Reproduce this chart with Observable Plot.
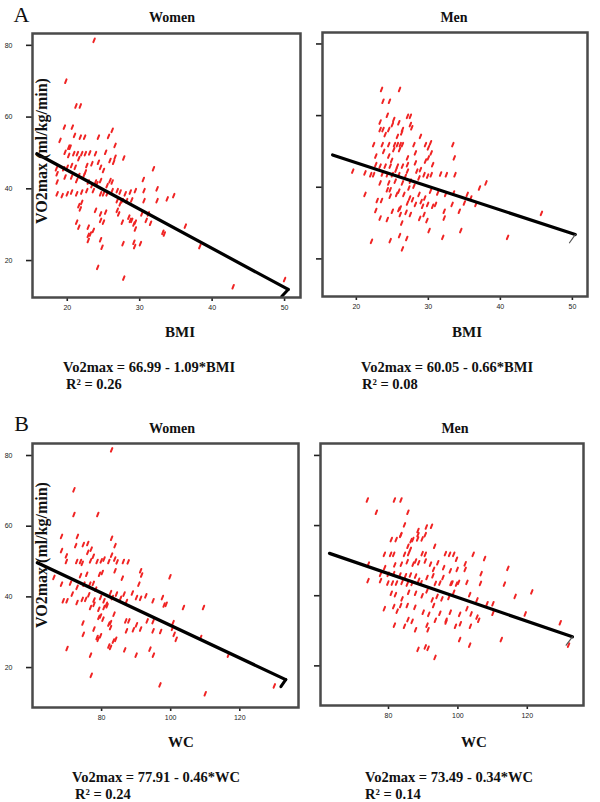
<!DOCTYPE html>
<html>
<head>
<meta charset="utf-8">
<script src="https://cdn.jsdelivr.net/npm/d3@7"></script>
<script src="https://cdn.jsdelivr.net/npm/@observablehq/plot@0.6"></script>
<style>
  body { margin: 0; background: #fff; }
  #chart { position: relative; width: 600px; height: 802px; overflow: hidden; font-family: "Liberation Serif", "Times New Roman", serif; color: #111; }
  .pl { position: absolute; }
  .t { position: absolute; white-space: nowrap; line-height: 1; transform: translate(-50%, -50%); }
  .l { position: absolute; white-space: nowrap; line-height: 1; transform: translate(0, -50%); font-weight: bold; font-size: 14.5px; }
  .letter { font-size: 22px; }
  .ttl { font-size: 14px; font-weight: bold; }
  .xl { font-size: 15px; font-weight: bold; }
  .yl { font-size: 16px; font-weight: bold; transform: translate(-50%, -50%) rotate(-90deg); }
</style>
</head>
<body>
<div id="chart"></div>
<script>
// ---------- data ----------
const vo2Ticks = [20, 40, 60, 80];
const bmiTicks = [20, 30, 40, 50];
const wcTicks = [80, 100, 120];

const panelLetters = ["A", "B"];
const sexTitles = ["Women", "Men"];
const xLabels = ["BMI", "WC"];
const yLabel = "VO2max (ml/kg/min)";
const equations = ["Vo2max = 66.99 - 1.09*BMI", "Vo2max = 60.05 - 0.66*BMI", "Vo2max = 77.91 - 0.46*WC", "Vo2max = 73.49 - 0.34*WC"];
const r2Labels = ["R\u00b2 = 0.26", "R\u00b2 = 0.08", "R\u00b2 = 0.24", "R\u00b2 = 0.14"];

// regression fits (women BMI, men BMI, women WC, men WC)
const intercepts = [66.99, 60.05, 77.91, 73.49];
const slopes = [-1.09, -0.66, -0.46, -0.34];
const lineStart = [15.8, 16.7, 61.4, 63.0];
const lineEnd = [50.5, 50.4, 133.3, 133.0];
const hookX = [49.6, 49.6, 131.9, 131.2];
const hookY = [10.0, 24.5, 14.6, 25.9];

// Women, BMI
const womenBmi = [23.7,19.8,21.2,21.8,19.6,20.7,19.0,21.0,21.8,22.4,24.3,25.7,26.2,26.6,
  20.2,20.4,19.7,20.2,20.9,21.4,22.0,22.5,23.1,23.9,
  18.5,18.6,19.5,20.6,21.1,22.7,23.4,24.6,25.0,25.9,26.4,26.6,27.8,
  31.9,30.5,
  18.6,19.7,20.6,21.3,22.3,22.9,23.9,24.6,25.9,
  18.6,19.3,20.0,20.6,21.3,22.0,22.7,23.6,24.6,25.0,25.5,26.2,26.9,27.3,28.0,28.7,29.4,30.6,32.4,33.8,34.7,
  26.9,27.6,28.2,28.9,30.6,32.4,
  21.6,21.8,23.9,24.6,25.3,26.9,27.1,28.5,28.9,29.4,30.3,31.2,
  21.3,21.6,22.9,23.6,24.6,25.0,27.6,28.7,29.2,29.4,30.9,31.5,33.2,33.4,36.3,
  22.9,23.2,22.9,24.6,24.8,27.7,29.2,29.3,30.1,38.3,
  24.2,27.8,42.9,50.0,
  21.6,22.5,23.4,24.1,25.5,26.2,20.0,21.6,24.3,25.3,27.3,22.0];
const womenBmiVo2 = [81.4,70.0,63.1,63.1,57.2,57.2,53.5,54.9,54.4,54.4,54.4,54.6,56.3,52.1,
  51.6,51.6,50.2,49.3,49.8,49.8,49.8,49.8,50.0,49.8,
  45.6,44.2,45.6,46.5,46.0,46.5,47.0,46.0,45.1,47.9,47.4,48.8,48.6,
  45.6,42.6,
  41.9,43.3,43.3,42.3,43.7,41.9,41.9,42.3,42.3,
  38.6,38.1,38.6,39.1,38.6,39.1,39.5,39.5,38.6,38.6,38.6,39.5,39.5,39.1,38.6,39.1,39.5,39.5,40.0,37.2,38.1,
  36.7,36.7,36.7,36.9,36.7,36.7,
  35.3,34.4,34.0,33.0,33.5,34.0,33.0,32.1,31.2,30.7,33.0,33.0,
  30.7,29.3,29.3,28.4,31.2,30.7,30.7,31.2,30.2,28.8,31.2,30.4,27.9,27.4,29.6,
  27.0,27.4,25.6,25.8,23.7,24.7,25.1,23.9,24.7,23.9,
  18.1,15.1,12.7,14.7,
  43.7,44.7,40.9,41.4,40.9,41.9,46.0,48.4,47.4,50.2,35.8,36.2];

// Men, BMI
const menBmi = [23.5,26.0,23.7,24.6,24.3,
  23.3,25.2,25.9,27.1,27.5,
  23.3,23.7,24.5,25.0,26.4,27.5,27.7,
  24.0,25.7,26.3,28.9,
  22.4,23.6,24.5,25.3,25.7,26.1,26.4,28.0,29.6,30.3,33.4,
  22.7,23.8,24.5,25.2,26.0,27.1,28.2,30.0,30.4,33.6,
  22.7,23.3,24.0,24.7,25.7,26.4,27.1,28.2,29.6,30.0,30.6,
  19.5,21.2,22.0,22.4,23.6,24.3,25.0,25.9,27.1,28.4,28.9,29.4,30.4,31.7,32.5,33.7,
  23.3,24.5,25.4,26.4,27.5,28.7,29.9,
  24.3,24.7,25.9,27.3,28.0,30.3,37.1,38.0,
  21.2,22.9,23.5,24.7,25.6,26.6,27.4,28.7,29.5,31.3,32.4,33.5,35.4,35.9,
  22.7,25.0,25.9,26.1,27.1,28.2,29.2,29.9,30.6,31.0,32.2,33.3,34.3,35.0,36.6,
  23.3,24.3,26.1,27.5,28.8,29.4,29.8,32.2,
  26.3,30.1,34.5,
  22.1,24.7,26.0,27.0,32.0,41.0,26.4,45.7,
  25.5,26.8,24.9,27.8,29.0,26.9];
const menBmiVo2 = [67.3,67.3,64.0,64.0,60.1,
  58.2,58.9,58.0,59.8,59.8,
  56.1,56.1,56.1,57.5,56.1,57.5,56.6,
  54.7,54.2,55.2,54.2,
  51.9,51.9,51.9,51.9,51.9,51.9,51.9,51.9,51.9,52.4,51.9,
  48.7,50.0,48.7,50.5,50.5,48.2,49.6,51.0,49.6,48.2,
  46.3,45.9,45.9,45.9,45.9,45.9,46.3,46.8,47.3,48.2,46.3,
  44.5,44.0,43.5,43.5,43.7,43.5,43.5,43.5,44.5,44.5,44.9,43.5,43.5,43.7,43.5,43.5,
  41.2,41.2,41.7,41.2,41.7,42.6,43.1,
  39.3,39.3,38.9,39.8,40.3,38.9,39.8,41.2,
  38.0,36.3,36.3,37.5,38.0,38.0,37.0,38.0,37.0,38.4,38.0,38.4,38.0,37.0,
  33.5,33.3,33.8,34.2,35.6,35.2,34.7,35.2,34.7,35.2,33.3,35.2,33.3,35.6,35.2,
  31.4,31.0,32.4,32.4,31.3,32.4,30.7,31.4,
  30.0,27.9,27.9,
  24.9,25.1,26.5,25.7,26.0,26.0,22.8,32.7,
  44.8,43.0,47.5,36.5,36.0,33.0];

// Women, WC
const womenWc = [82.9,72.0,72.0,78.9,68.4,73.0,82.9,83.9,
  72.5,74.7,76.0,77.0,68.4,69.8,69.8,
  72.8,73.9,74.4,76.0,76.8,77.6,78.7,79.9,80.7,
  82.1,82.9,83.8,84.5,86.3,87.7,
  73.9,75.7,79.4,80.2,83.9,86.0,91.3,91.6,90.8,99.8,
  66.2,68.4,71.0,72.9,74.9,76.6,77.6,78.3,
  68.9,70.0,71.5,72.9,74.4,75.4,76.3,77.8,79.7,80.7,81.4,82.6,83.1,84.3,85.5,86.5,87.2,88.9,90.1,91.3,92.8,94.9,97.6,98.1,98.7,103.7,109.5,
  76.8,77.8,79.2,80.7,81.6,
  74.6,79.7,79.2,80.4,82.6,83.6,87.0,87.9,90.1,91.3,93.2,94.9,
  74.7,77.8,79.7,82.1,82.6,78.7,79.0,83.4,84.1,
  87.2,89.2,94.9,97.1,100.7,100.5,101.0,101.6,108.7,
  70.0,76.8,82.1,82.6,86.7,94.0,95.0,90.0,116.7,77.0,96.9,130.0,110.0];
const womenWcVo2 = [81.6,70.3,63.3,63.3,57.1,57.1,56.6,54.5,
  54.5,54.8,55.1,53.5,53.1,51.6,50.0,
  50.0,50.0,49.5,52.6,50.2,51.5,50.0,50.2,50.7,
  50.0,51.8,50.7,49.9,50.0,49.9,
  46.0,46.4,46.4,46.9,47.4,45.3,47.4,46.2,43.6,45.7,
  45.5,43.6,43.9,42.7,43.6,43.6,43.8,42.2,
  38.9,38.9,40.8,38.4,39.3,39.3,40.6,39.1,39.8,38.9,37.9,41.2,39.8,40.8,39.6,40.8,38.7,41.1,39.8,39.6,40.3,38.9,39.8,37.7,37.9,37.0,37.0,
  37.0,37.9,36.5,37.0,37.5,
  32.6,34.6,34.2,33.7,32.7,35.1,33.2,33.2,32.1,30.9,33.2,33.0,
  29.4,30.9,29.0,32.3,31.3,28.5,28.0,27.5,28.0,
  30.4,30.7,30.4,30.2,32.7,31.1,29.4,28.0,28.5,
  25.4,23.5,26.1,25.7,25.0,25.2,23.5,23.5,23.5,17.8,15.1,14.8,12.6];

// Men, WC
const menWc = [73.9,81.7,83.6,76.5,85.6,84.6,
  88.5,88.5,90.9,92.4,90.6,
  80.8,82.2,83.6,83.5,87.0,88.4,89.7,
  93.3,85.6,86.3,86.5,
  78.8,80.6,81.5,84.6,85.8,87.8,89.7,90.6,92.1,94.2,96.4,97.6,98.8,99.6,104.4,107.7,102.1,
  74.2,81.8,83.7,85.4,87.1,88.7,90.6,93.0,95.9,97.8,99.8,102.1,106.7,114.4,
  77.7,78.9,79.9,81.5,83.3,84.9,86.3,87.8,88.7,91.1,92.8,95.7,98.3,100.2,102.6,106.5,113.4,121.3,
  74.1,77.7,79.8,81.1,82.3,83.9,85.4,86.8,89.4,93.5,94.8,98.0,99.6,
  80.8,82.0,83.9,85.8,87.8,89.7,91.1,92.6,94.0,95.4,97.4,98.8,103.4,105.5,108.4,110.1,116.5,
  78.8,81.5,82.5,83.5,85.4,87.6,90.0,91.6,93.0,94.8,96.6,97.8,100.5,102.6,103.8,105.5,110.1,119.4,
  81.7,84.6,85.6,86.8,87.8,91.1,91.4,93.5,96.6,99.3,100.7,103.6,106.0,
  129.5,100.5,103.4,112.5,88.5,90.6,91.4,93.4,131.9];
const menWcVo2 = [67.3,67.3,67.3,63.8,63.8,60.2,
  58.6,57.4,59.6,59.8,57.4,
  56.0,56.0,57.4,57.2,56.0,56.2,56.2,
  54.1,54.1,53.2,55.7,
  51.8,51.8,51.8,51.8,52.0,49.9,52.0,51.8,49.0,49.4,52.0,51.8,51.8,50.4,51.8,50.6,49.1,
  49.0,48.8,49.0,49.7,49.0,49.4,49.9,47.5,48.0,47.1,47.5,47.5,46.3,47.8,
  46.1,48.0,46.1,46.3,45.9,45.7,45.9,45.6,44.4,45.2,45.7,45.2,43.6,43.8,43.8,43.5,43.3,41.1,
  44.3,44.3,43.6,43.6,43.6,43.8,43.3,43.5,43.7,43.5,43.6,43.5,43.3,
  40.7,40.3,39.1,41.0,40.7,40.0,41.4,38.8,39.8,39.1,39.5,41.0,40.3,38.8,37.7,37.7,39.8,
  36.3,36.9,35.6,37.2,37.2,36.7,35.3,34.7,37.2,35.0,33.0,35.3,34.7,36.3,34.8,33.9,35.0,34.8,
  31.6,31.3,33.2,32.7,30.3,31.6,30.3,33.0,32.5,31.3,32.0,31.3,33.0,
  32.3,27.5,25.9,27.5,24.7,25.4,25.0,22.4,25.9];

// ---------- drawing ----------
const dash = {
  draw(context, size) {
    const r = Math.sqrt(size / Math.PI);
    context.moveTo(-0.4 * r, r);
    context.lineTo(0.4 * r, -r);
  }
};

function panel(cfg) {
  const i = cfg.idx;
  const pts = cfg.xs.map((x, k) => ({x, y: cfg.ys[k]}));
  const fit = [lineStart[i], lineEnd[i]].map(x => ({x, y: intercepts[i] + slopes[i] * x}));
  const hook = [fit[1], {x: hookX[i], y: hookY[i]}];
  return Plot.plot({
    width: cfg.width, height: cfg.height,
    marginLeft: cfg.ml, marginRight: cfg.mr, marginTop: cfg.mt, marginBottom: cfg.mb,
    x: {domain: cfg.xDomain},
    y: {domain: cfg.yDomain},
    style: {fontFamily: "'Liberation Sans', Arial, sans-serif", fontSize: "7px", color: "#222", background: "transparent", overflow: "visible"},
    marks: [
      Plot.axisX({ticks: cfg.xTicks, tickSize: 4, tickPadding: 4, strokeWidth: 1.6, label: null, tickFormat: d => String(d)}),
      Plot.axisY({ticks: vo2Ticks, tickSize: 6, tickPadding: 14, strokeWidth: 1.6, label: null, tickFormat: cfg.yLabels ? (d => String(d)) : (() => "")}),
      Plot.dot(pts, {x: "x", y: "y", symbol: dash, r: 1.8, stroke: "#f02424", strokeWidth: 2, strokeLinecap: "round", fill: "none"}),
      Plot.line(fit, {x: "x", y: "y", stroke: "#000", strokeWidth: 3.2}),
      Plot.line(hook, {x: "x", y: "y", stroke: cfg.hookColor, strokeWidth: cfg.hookWidth}),
      Plot.frame({stroke: "#4a4a4a", strokeWidth: 2.5})
    ]
  });
}

const chart = document.getElementById("chart");
function place(el, left, top) {
  const d = document.createElement("div");
  d.className = "pl";
  d.style.left = left + "px";
  d.style.top = top + "px";
  d.appendChild(el);
  chart.appendChild(d);
}

place(panel({idx: 0, xs: womenBmi, ys: womenBmiVo2, width: 305, height: 320, ml: 32, mr: 5, mt: 33, mb: 23,
  xDomain: [15.2, 52.2], yDomain: [9.7, 83.3], xTicks: bmiTicks, yLabels: true, hookColor: "#000", hookWidth: 3}), 0, 0);
place(panel({idx: 1, xs: menBmi, ys: menBmiVo2, width: 310, height: 320, ml: 32, mr: 13, mt: 32, mb: 24,
  xDomain: [15.3, 52.1], yDomain: [9.5, 83.2], xTicks: bmiTicks, yLabels: false, hookColor: "#555", hookWidth: 1.2}), 290, 0);
place(panel({idx: 2, xs: womenWc, ys: womenWcVo2, width: 305, height: 320, ml: 32, mr: 7, mt: 33, mb: 23,
  xDomain: [60, 137], yDomain: [8.7, 83.4], xTicks: wcTicks, yLabels: true, hookColor: "#000", hookWidth: 3}), 0, 410);
place(panel({idx: 3, xs: menWc, ys: menWcVo2, width: 310, height: 320, ml: 30, mr: 17, mt: 33, mb: 25,
  xDomain: [60.4, 136.2], yDomain: [8.7, 83.4], xTicks: wcTicks, yLabels: false, hookColor: "#555", hookWidth: 1.2}), 290, 410);

function txt(cls, s, x, y) {
  const d = document.createElement("div");
  d.className = cls;
  d.textContent = s;
  d.style.left = x + "px";
  d.style.top = y + "px";
  chart.appendChild(d);
}

txt("t letter", panelLetters[0], 21.5, 15);
txt("t letter", panelLetters[1], 21.5, 424);
txt("t ttl", sexTitles[0], 172, 18);
txt("t ttl", sexTitles[1], 454, 18);
txt("t ttl", sexTitles[0], 172, 429);
txt("t ttl", sexTitles[1], 455, 429);
txt("t yl", yLabel, 42, 151);
txt("t yl", yLabel, 42, 555);
txt("t xl", xLabels[0], 180, 332);
txt("t xl", xLabels[0], 467, 332);
txt("t xl", xLabels[1], 181, 742);
txt("t xl", xLabels[1], 474, 742);
txt("l", equations[0], 63, 367);
txt("l", r2Labels[0], 66, 384);
txt("l", equations[1], 361, 367);
txt("l", r2Labels[1], 362, 384);
txt("l", equations[2], 72, 777);
txt("l", r2Labels[2], 75, 794);
txt("l", equations[3], 365, 777);
txt("l", r2Labels[3], 365, 794);
</script>
</body>
</html>
